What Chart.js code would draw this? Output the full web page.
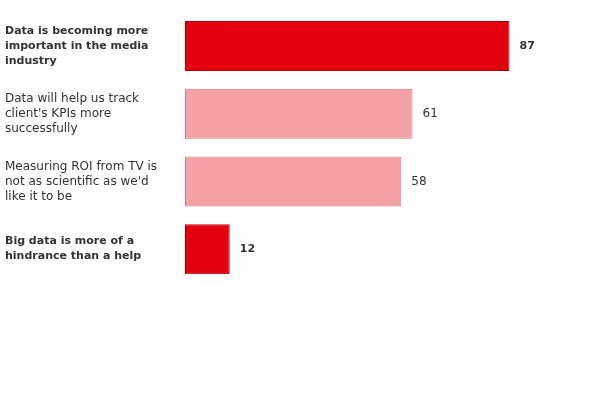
<!DOCTYPE html>
<html>
<head>
<meta charset="utf-8">
<script src="https://cdn.jsdelivr.net/npm/chart.js@4/dist/chart.umd.min.js"></script>
<style>
  html, body { margin: 0; padding: 0; background: #fff; }
  #wrap { width: 600px; height: 400px; }
</style>
</head>
<body>
<div id="wrap"><canvas id="chart"></canvas></div>
<script>
// survey statements, one per bar (line breaks as in the picture)
const statements = [
  ['Data is becoming more', 'important in the media', 'industry'],
  ['Data will help us track', "client's KPIs more", 'successfully'],
  ['Measuring ROI from TV is', "not as scientific as we'd", 'like it to be'],
  ['Big data is more of a', 'hindrance than a help']
];
const scores = [87, 61, 58, 12];
const highlighted = [true, false, false, true];

const RED = '#e3000f';
const RED_EDGE = '#b3000b';
const PINK = '#f4a2a7';
const PINK_EDGE = '#d27c83';
const TEXT = '#333333';

function labelFont(i) {
  return highlighted[i]
    ? { family: '"DejaVu Sans"', size: 11, weight: 'bold', lineHeight: 15 / 11 }
    : { family: '"DejaVu Sans"', size: 12, weight: 'normal', lineHeight: 15 / 12 };
}

// value label at the end of each bar
const valueLabels = {
  id: 'valueLabels',
  afterDatasetsDraw(chart) {
    const { ctx } = chart;
    const meta = chart.getDatasetMeta(0);
    ctx.save();
    ctx.fillStyle = TEXT;
    ctx.textBaseline = 'middle';
    ctx.textAlign = 'left';
    meta.data.forEach((bar, i) => {
      const f = labelFont(i);
      ctx.font = f.weight + ' ' + f.size + 'px ' + f.family;
      ctx.fillText(String(scores[i]), bar.x + 10, bar.y);
    });
    ctx.restore();
  }
};

new Chart(document.getElementById('chart'), {
  type: 'bar',
  data: {
    labels: statements,
    datasets: [{
      data: scores,
      backgroundColor: highlighted.map(h => h ? RED : PINK),
      borderColor: highlighted.map(h => h ? RED_EDGE : PINK_EDGE),
      borderWidth: 1,
      borderSkipped: false,
      categoryPercentage: 1,
      barPercentage: 50 / 67.75
    }]
  },
  options: {
    indexAxis: 'y',
    responsive: true,
    maintainAspectRatio: false,
    animation: false,
    layout: { padding: { left: 5, right: 42, top: 12, bottom: 117 } },
    plugins: { legend: { display: false }, tooltip: { enabled: false } },
    scales: {
      x: { display: false, min: 0, max: 100 },
      y: {
        grid: { display: false, drawTicks: false },
        border: { display: false },
        afterFit(scale) {
          scale.width = 180;
          scale.paddingTop = 0;
          scale.paddingBottom = 0;
        },
        ticks: {
          crossAlign: 'far',
          padding: 0,
          color: TEXT,
          font: (c) => labelFont(c.index)
        }
      }
    }
  },
  plugins: [valueLabels]
});
</script>
</body>
</html>
